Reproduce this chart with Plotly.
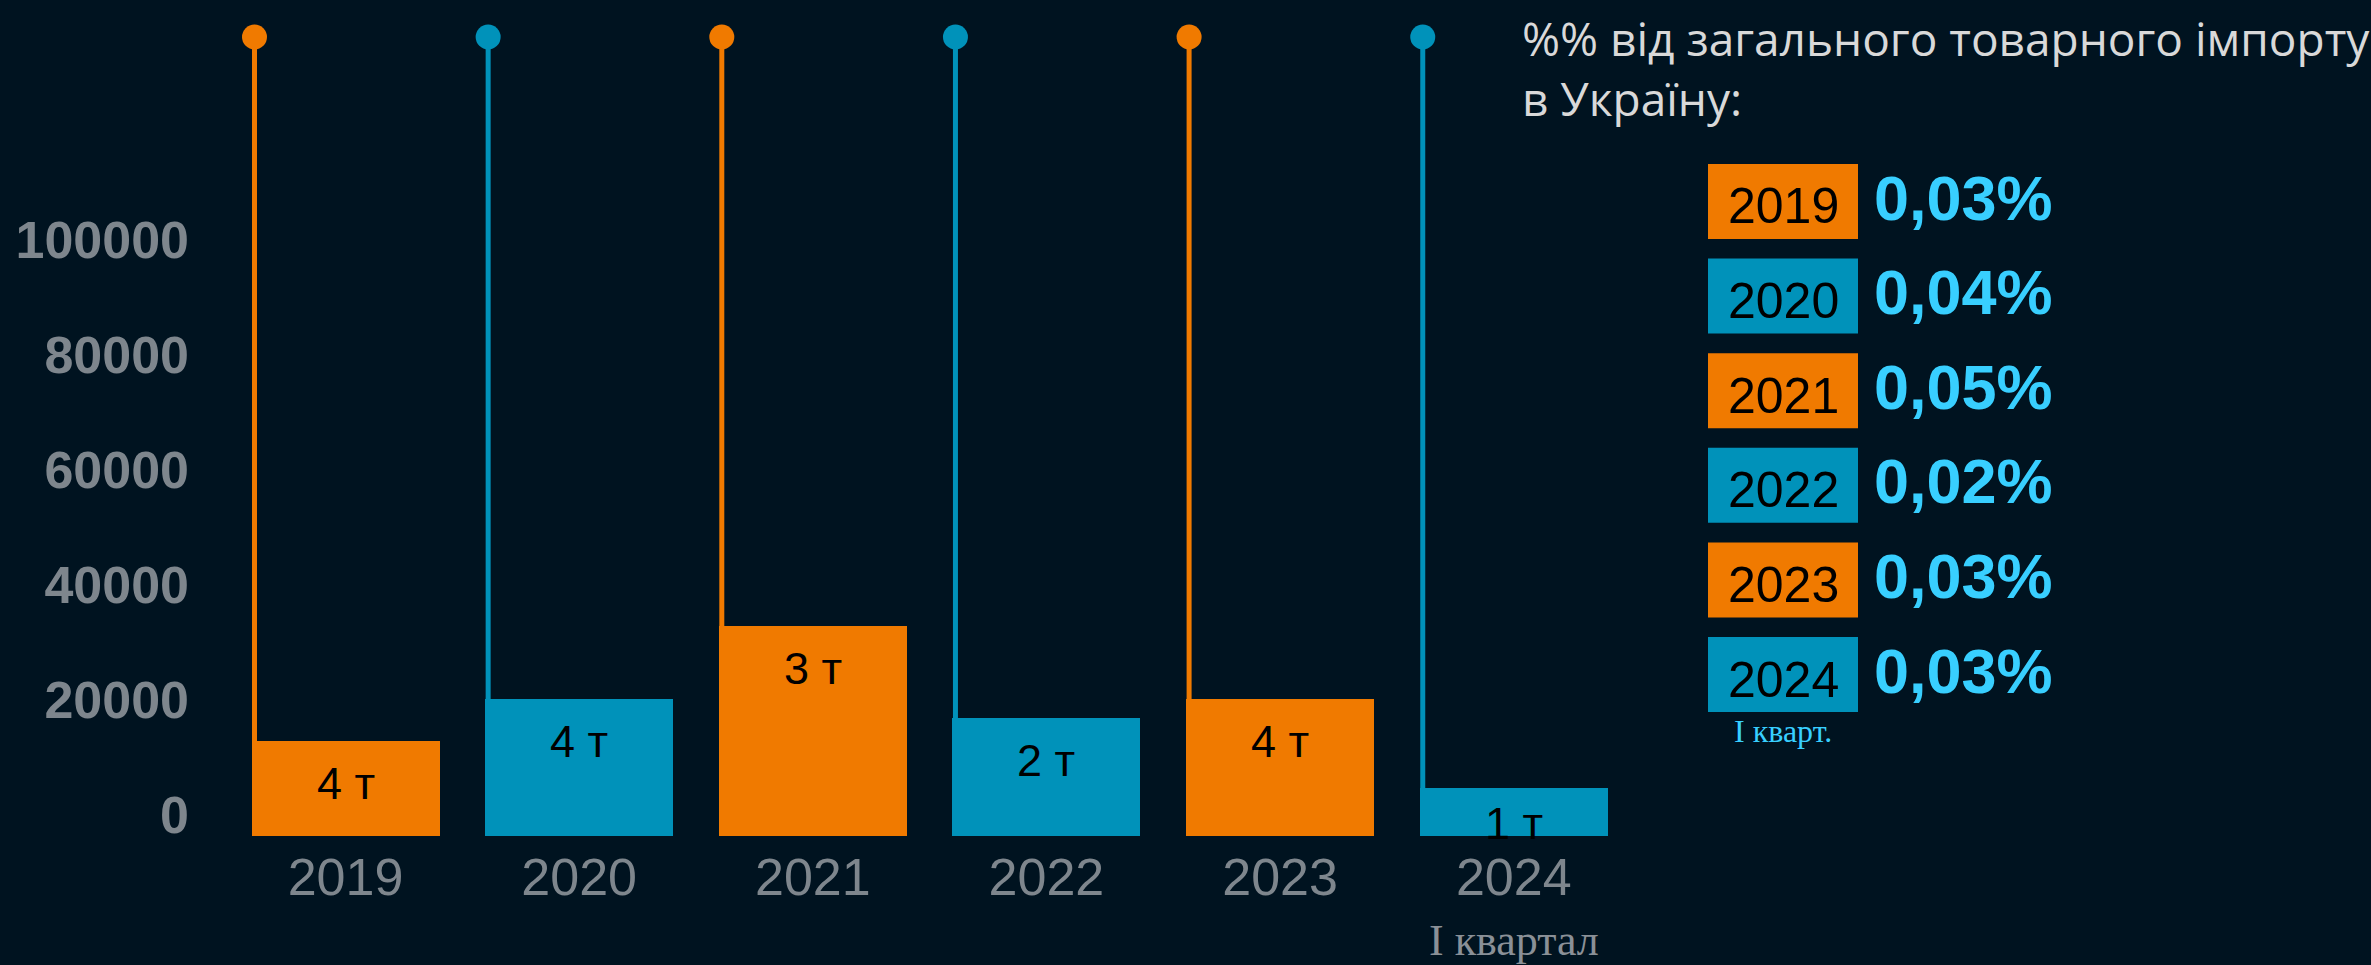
import plotly.graph_objects as go

# ---------------- data ----------------
years = ["2019", "2020", "2021", "2022", "2023", "2024"]
volumes = [16500, 23800, 36500, 20500, 23800, 8350]
bar_labels = ["4 т", "4 т", "3 т", "2 т", "4 т", "1 т"]
shares = ["0,03%", "0,04%", "0,05%", "0,02%", "0,03%", "0,03%"]
y_ticks = [0, 20000, 40000, 60000, 80000, 100000]
title_text = "%% від загального товарного імпорту<br>в Україну:"
q_note_axis = "I квартал"
q_note_legend = "I кварт."

# ---------------- style ----------------
ORANGE = "#F07A00"
BLUE = "#0092BA"
colors = [ORANGE if i % 2 == 0 else BLUE for i in range(len(years))]
BG = "#001320"
GREY = "#7E868D"
CYAN = "#38CFFF"
NARROW = "Liberation Sans Narrow, Arial Narrow, Liberation Sans, Arial, sans-serif"
SANS = "Liberation Sans, Arial, sans-serif"
SERIF = "Liberation Serif, Times New Roman, serif"

W_FIG, H_FIG = 2371, 965
ML, MR, MT, MB = 200, 751, 20, 129
PLOT_W = W_FIG - ML - MR
PLOT_H = H_FIG - MT - MB
PX_PER_UNIT = 233.65         # pixels per category step
FIRST_CENTER = 345.5         # pixel x of the first category
PX_PER_20K = 115.0           # pixels per 20000
BAR_W = 188 / PX_PER_UNIT
YMAX = 20000 * PLOT_H / PX_PER_20K
XMIN = -(FIRST_CENTER - ML) / PX_PER_UNIT
XMAX = XMIN + PLOT_W / PX_PER_UNIT


def px(x):
    return (x - ML) / PLOT_W


def py(y):
    return (H_FIG - MB - y) / PLOT_H


xs = list(range(len(years)))
stem_x = [i - BAR_W / 2 + 3 / PX_PER_UNIT for i in xs]
stem_top = py(37)

fig = go.Figure()
fig.add_trace(go.Bar(
    x=xs, y=volumes, width=BAR_W, marker=dict(color=colors, line=dict(width=0)),
    hoverinfo="skip", showlegend=False,
))
fig.add_trace(go.Scatter(
    x=stem_x, y=[stem_top * YMAX] * len(xs), mode="markers",
    marker=dict(size=25, color=colors, line=dict(width=0)),
    cliponaxis=False, hoverinfo="skip", showlegend=False,
))

shapes = []
for i, c in enumerate(colors):
    shapes.append(dict(type="line", xref="x", yref="paper", x0=stem_x[i], x1=stem_x[i],
                       y0=0, y1=stem_top, line=dict(color=c, width=5), layer="below"))

annotations = []
for i, (v, t) in enumerate(zip(volumes, bar_labels)):
    bar_px = v / YMAX * PLOT_H
    shift = min(42, bar_px - 13)
    annotations.append(dict(x=i, y=v, xref="x", yref="y", text=t, showarrow=False,
                            yshift=-shift, yanchor="middle",
                            font=dict(family=NARROW, size=45, color="#000000")))

annotations.append(dict(x=xs[-1], y=py(940), xref="x", yref="paper", text=q_note_axis,
                        showarrow=False, xanchor="center", yanchor="middle",
                        font=dict(family=SERIF, size=44, color="#8A9097")))

annotations.append(dict(x=px(1520), y=py(5), xref="paper", yref="paper", text=title_text,
                        showarrow=False, xanchor="left", yanchor="top", align="left",
                        font=dict(family="Open Sans, sans-serif", size=46, color="#D9D9D9")))

ROW0, ROW_STEP = 201.5, 94.6
BOX_L, BOX_R, BOX_H = 1708, 1858, 75
for k, (yr, sh) in enumerate(zip(years, shares)):
    cy = ROW0 + k * ROW_STEP
    shapes.append(dict(type="rect", xref="paper", yref="paper",
                       x0=px(BOX_L), x1=px(BOX_R), y0=py(cy + BOX_H / 2), y1=py(cy - BOX_H / 2),
                       fillcolor=colors[k], line=dict(width=0), layer="above"))
    annotations.append(dict(x=px((BOX_L + BOX_R) / 2), y=py(cy + 5), xref="paper", yref="paper",
                            text=yr, showarrow=False, xanchor="center", yanchor="middle",
                            font=dict(family=NARROW, size=50, color="#000000")))
    annotations.append(dict(x=px(1872), y=py(cy - 4), xref="paper", yref="paper",
                            text="<b>" + sh + "</b>", showarrow=False, xanchor="left",
                            yanchor="middle",
                            font=dict(family=SANS, size=63, color=CYAN)))

annotations.append(dict(x=px(1783), y=py(731), xref="paper", yref="paper", text=q_note_legend,
                        showarrow=False, xanchor="center", yanchor="middle",
                        font=dict(family=SERIF, size=32, color=CYAN)))

fig.update_layout(
    width=W_FIG, height=H_FIG,
    margin=dict(l=ML, r=MR, t=MT, b=MB, pad=0),
    paper_bgcolor=BG, plot_bgcolor=BG,
    shapes=shapes, annotations=annotations,
    bargap=0, showlegend=False,
    xaxis=dict(range=[XMIN, XMAX], tickvals=xs, ticktext=years, showgrid=False,
               zeroline=False, showline=False, ticks="",
               tickfont=dict(family=NARROW, size=52, color=GREY), ticklabelstandoff=6),
    yaxis=dict(range=[0, YMAX], tickvals=y_ticks, ticktext=[str(v) for v in y_ticks],
               showgrid=False, zeroline=False, showline=False, ticks="",
               tickfont=dict(family=SANS, size=52, color=GREY, weight="bold"),
               ticklabelshift=-21, ticklabelstandoff=10),
)

fig.write_html(
    "out.html",
    config={"displayModeBar": False},
    post_script="document.body.style.margin='0';document.body.style.background='" + BG + "';",
)
